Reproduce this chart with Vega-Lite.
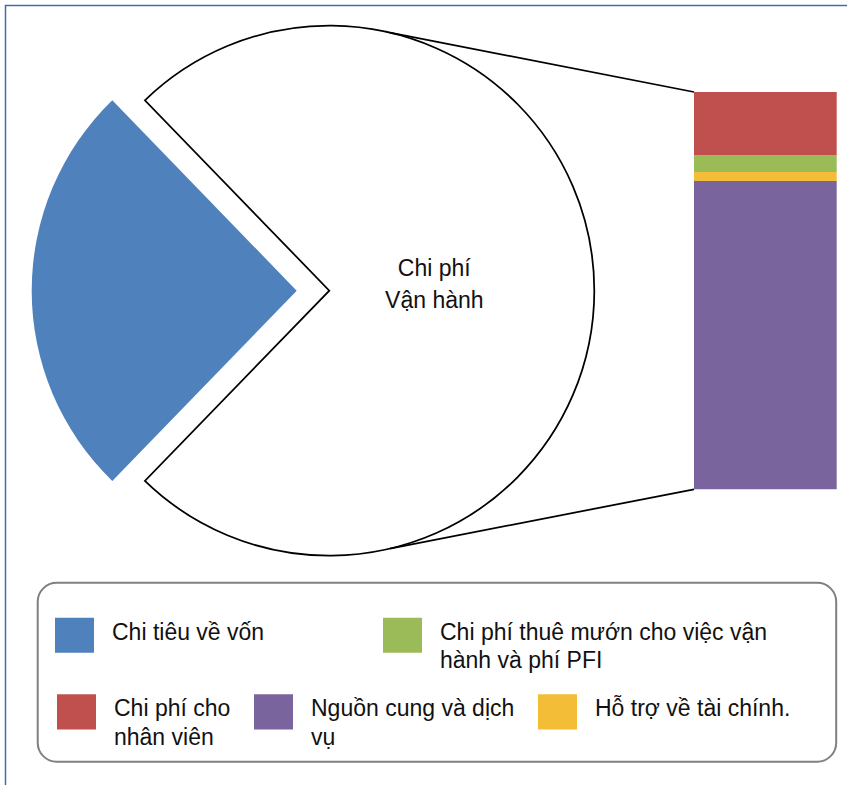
{
  "$schema": "https://vega.github.io/schema/vega-lite/v6.json",
  "width": 841.5,
  "height": 779.5,
  "autosize": "none",
  "padding": {"left": 5.5, "top": 5.5, "right": 0, "bottom": 0},
  "background": "#ffffff",
  "config": {
    "view": {"stroke": "#3B6FAE", "strokeWidth": 1.5, "strokeDash": [841.5, 1621, 779.5]},
    "font": "Liberation Sans",
    "style": {"guide-label": {"lineHeight": 28.7}}
  },
  "data": {
    "values": [
      {"category": "Chi tiêu về vốn", "group": "Chi tiêu về vốn", "value": 25.5},
      {"category": "Chi phí cho nhân viên", "group": "Chi phí Vận hành", "value": 11.8},
      {"category": "Chi phí thuê mướn cho việc vận hành và phí PFI", "group": "Chi phí Vận hành", "value": 3.2},
      {"category": "Nguồn cung và dịch vụ", "group": "Chi phí Vận hành", "value": 57.8},
      {"category": "Hỗ trợ về tài chính.", "group": "Chi phí Vận hành", "value": 1.7}
    ]
  },
  "layer": [
    {
      "data": {"values": [{}]},
      "mark": {"type": "rect", "filled": false, "stroke": "#808080", "strokeWidth": 2, "cornerRadius": 19},
      "encoding": {
        "x": {"datum": 6.04, "type": "quantitative", "scale": {"domain": [0, 157.795], "nice": false, "zero": false}, "axis": null},
        "x2": {"datum": 155.77},
        "y": {"datum": -17.53, "type": "quantitative", "scale": {"domain": [-55.448, 90.72], "nice": false, "zero": false}, "axis": null},
        "y2": {"datum": -51.08}
      }
    },
    {
      "transform": [{"aggregate": [{"op": "sum", "field": "value", "as": "total"}], "groupby": ["group"]}],
      "mark": {
        "type": "arc",
        "outerRadius": 265,
        "strokeWidth": 1.75,
        "fill": {"expr": "datum.group === 'Chi tiêu về vốn' ? '#4F81BD' : '#FFFFFF'"},
        "stroke": {"expr": "datum.group === 'Chi tiêu về vốn' ? null : '#000000'"},
        "xOffset": {"expr": "datum.group === 'Chi tiêu về vốn' ? -32.6 : 0"}
      },
      "encoding": {
        "theta": {"field": "total", "type": "quantitative", "stack": true, "scale": {"range": [-0.7697, 5.5135], "nice": false}},
        "order": {"field": "group", "sort": "ascending"},
        "x": {"datum": 60.718, "type": "quantitative", "scale": {"domain": [0, 157.795], "nice": false, "zero": false}, "axis": null},
        "y": {"datum": 37.25, "type": "quantitative", "scale": {"domain": [-55.448, 90.72], "nice": false, "zero": false}, "axis": null}
      }
    },
    {
      "transform": [{"aggregate": [{"op": "sum", "field": "value", "as": "total"}], "groupby": ["group"]}],
      "mark": {
        "type": "text",
        "radius": 105,
        "font": "Liberation Sans",
        "fontSize": 23,
        "lineHeight": 32.6,
        "align": "center",
        "baseline": "alphabetic",
        "dy": -15,
        "color": "#111111",
        "text": {"expr": "datum.group === 'Chi phí Vận hành' ? ['Chi phí', 'Vận hành'] : ''"}
      },
      "encoding": {
        "theta": {"field": "total", "type": "quantitative", "stack": true, "scale": {"range": [-0.7697, 5.5135], "nice": false}},
        "order": {"field": "group", "sort": "ascending"},
        "x": {"datum": 60.718, "type": "quantitative", "scale": {"domain": [0, 157.795], "nice": false, "zero": false}, "axis": null},
        "y": {"datum": 37.25, "type": "quantitative", "scale": {"domain": [-55.448, 90.72], "nice": false, "zero": false}, "axis": null}
      }
    },
    {
      "data": {"values": [{}]},
      "mark": {"type": "rule", "color": "#000000", "strokeWidth": 1.75},
      "encoding": {
        "x": {"datum": 72.1, "type": "quantitative", "scale": {"domain": [0, 157.795], "nice": false, "zero": false}, "axis": null},
        "y": {"datum": 85.63, "type": "quantitative", "scale": {"domain": [-55.448, 90.72], "nice": false, "zero": false}, "axis": null},
        "x2": {"datum": 129.104},
        "y2": {"datum": 74.5}
      }
    },
    {
      "data": {"values": [{}]},
      "mark": {"type": "rule", "color": "#000000", "strokeWidth": 1.75},
      "encoding": {
        "x": {"datum": 72.1, "type": "quantitative", "scale": {"domain": [0, 157.795], "nice": false, "zero": false}, "axis": null},
        "y": {"datum": -11.13, "type": "quantitative", "scale": {"domain": [-55.448, 90.72], "nice": false, "zero": false}, "axis": null},
        "x2": {"datum": 129.104},
        "y2": {"datum": 0}
      }
    },
    {
      "transform": [
        {"filter": "datum.group === 'Chi phí Vận hành'"},
        {"stack": "value", "groupby": [], "sort": [{"field": "category", "order": "descending"}], "as": ["v0", "v1"]},
        {"filter": "datum.category === 'Chi phí thuê mướn cho việc vận hành và phí PFI'"}
      ],
      "mark": {"type": "rect", "strokeWidth": 0},
      "encoding": {
        "x": {"datum": 129.104, "type": "quantitative", "scale": {"domain": [0, 157.795], "nice": false, "zero": false}, "axis": null},
        "x2": {"datum": 155.863},
        "y": {"field": "v0", "type": "quantitative", "scale": {"domain": [-55.448, 90.72], "nice": false, "zero": false}, "axis": null},
        "y2": {"field": "v1"},
        "fill": {
          "field": "category",
          "type": "nominal",
          "scale": {
            "domain": ["Chi tiêu về vốn", "Chi phí thuê mướn cho việc vận hành và phí PFI"],
            "range": ["#4F81BD", "#9BBB59"]
          },
          "legend": {
            "title": null,
            "orient": "none",
            "legendX": 49.5,
            "legendY": 614.3,
            "direction": "horizontal",
            "columns": 2,
            "columnPadding": 118,
            "padding": 0,
            "symbolType": "M-1,-1.13H1V0.67H-1Z",
            "symbolSize": 1521,
            "symbolStrokeWidth": 0,
            "symbolOpacity": 1,
            "labelFont": "Liberation Sans",
            "labelFontSize": 23,
            "labelColor": "#111111",
            "labelOffset": 18,
            "labelLimit": 600,
            "labelBaseline": "alphabetic",
            "labelExpr": "datum.label === 'Chi phí thuê mướn cho việc vận hành và phí PFI' ? ['Chi phí thuê mướn cho việc vận', 'hành và phí PFI'] : [datum.label, '']"
          }
        }
      }
    },
    {
      "transform": [
        {"filter": "datum.group === 'Chi phí Vận hành'"},
        {"stack": "value", "groupby": [], "sort": [{"field": "category", "order": "descending"}], "as": ["v0", "v1"]},
        {"filter": "datum.category !== 'Chi phí thuê mướn cho việc vận hành và phí PFI'"}
      ],
      "mark": {"type": "rect", "strokeWidth": 0},
      "encoding": {
        "x": {"datum": 129.104, "type": "quantitative", "scale": {"domain": [0, 157.795], "nice": false, "zero": false}, "axis": null},
        "x2": {"datum": 155.863},
        "y": {"field": "v0", "type": "quantitative", "scale": {"domain": [-55.448, 90.72], "nice": false, "zero": false}, "axis": null},
        "y2": {"field": "v1"},
        "color": {
          "field": "category",
          "type": "nominal",
          "scale": {
            "domain": ["Chi phí cho nhân viên", "Nguồn cung và dịch vụ", "Hỗ trợ về tài chính."],
            "range": ["#C0504D", "#7A649E", "#F4BD37"]
          },
          "legend": {
            "title": null,
            "orient": "none",
            "legendX": 51.5,
            "legendY": 691,
            "direction": "horizontal",
            "columns": 3,
            "columnPadding": 23,
            "padding": 0,
            "symbolType": "M-1,-1.13H1V0.67H-1Z",
            "symbolSize": 1521,
            "symbolStrokeWidth": 0,
            "symbolOpacity": 1,
            "labelFont": "Liberation Sans",
            "labelFontSize": 23,
            "labelColor": "#111111",
            "labelOffset": 18,
            "labelLimit": 600,
            "labelBaseline": "alphabetic",
            "labelExpr": "datum.label === 'Chi phí cho nhân viên' ? ['Chi phí cho', 'nhân viên'] : datum.label === 'Nguồn cung và dịch vụ' ? ['Nguồn cung và dịch', 'vụ'] : [datum.label, '']"
          }
        }
      }
    }
  ]
}
